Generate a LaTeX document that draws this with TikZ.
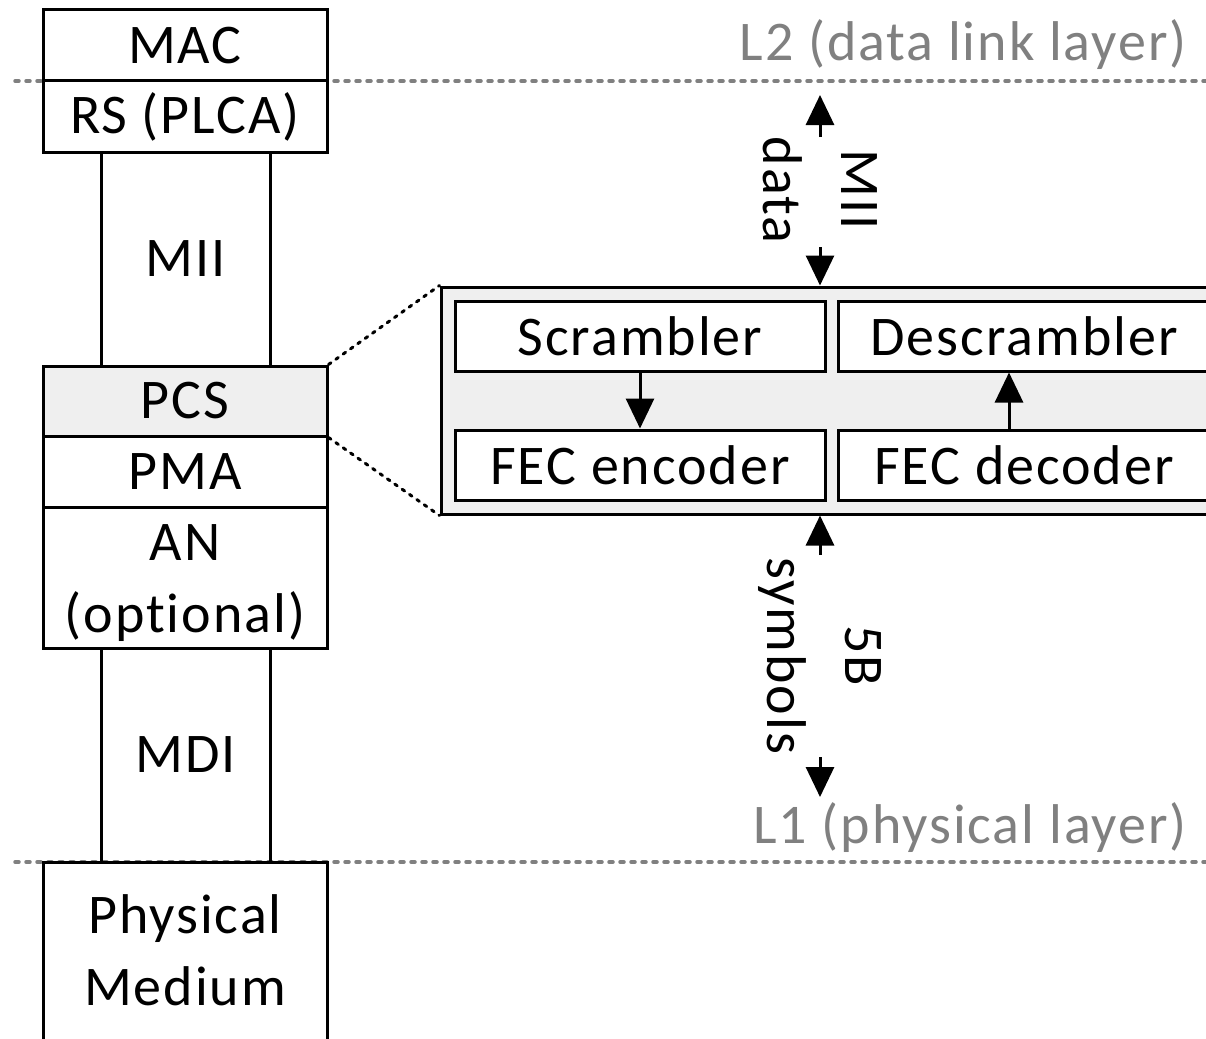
\documentclass[tikz,border=0pt]{standalone}
\usepackage{fontspec}
\setmainfont{Carlito}[Ligatures=CommonOff, LetterSpace=3.5]
\usetikzlibrary{arrows.meta}
\definecolor{layergray}{HTML}{808080}
\definecolor{pcsfill}{HTML}{EFEFEF}
\tikzset{
  blk/.style={draw=black, line width=3pt, minimum width=284pt, inner sep=0pt, align=center,
              font=\fontsize{56}{71}\selectfont},
  col/.style={draw=black, line width=3pt, minimum width=169pt, minimum height=214pt, inner sep=0pt,
              font=\fontsize{56}{71}\selectfont},
  sub/.style={draw=black, line width=3pt, fill=white, minimum height=70pt, inner sep=0pt,
              font=\fontsize{56}{71}\selectfont},
  txt/.style={inner sep=0pt, anchor=base, font=\fontsize{56}{71}\selectfont},
  layerline/.style={draw=layergray, line width=3.5pt, line cap=round, dash pattern=on 4pt off 7pt},
  layerlbl/.style={text=layergray, anchor=east, inner sep=0pt, font=\fontsize{56}{71}\selectfont},
  zoomline/.style={draw=black, line width=3pt, line cap=round, dash pattern=on 3pt off 6pt},
  arr/.style={draw=black, line width=3pt, -{Triangle[width=28pt,length=30pt]}},
  rotlbl/.style={rotate=-90, align=center, inner sep=0pt, font=\fontsize{56}{78}\selectfont}
}
\begin{document}
\begin{tikzpicture}[x=1pt,y=-1pt]
\useasboundingbox (0,0) rectangle (1206,1038);
\clip (0,0) rectangle (1206,1038);
% layer lines
\coordinate (l2a) at (15,81);
\coordinate (l2b) at (1210,81);
\coordinate (l1a) at (15,862);
\coordinate (l1b) at (1210,862);
\draw[layerline] (l2a) -- (l2b);
\draw[layerline] (l1a) -- (l1b);
\node[layerlbl] (l2lbl) at (1187,45) {L2 (data link layer)};
\node[layerlbl] (l1lbl) at (1187,828) {L1 (physical layer)};
% left stack
\node[col] (mii) at (185.5,259) {MII};
\node[col] (mdi) at (185.5,755) {MDI};
\node[blk, fill=white, minimum height=71pt] (mac) at (185,45.5) {MAC};
\node[blk, fill=white, minimum height=71pt] (rs) at (185,116.5) {RS (PLCA)};
\node[blk, fill=pcsfill, minimum height=70pt] (pcs) at (185,401) {PCS};
\node[blk, fill=white, minimum height=71pt] (pma) at (185,471.5) {PMA};
\node[blk, fill=white, minimum height=141pt] (an) at (185,577.5) {};
\node[txt] (antxt1) at (185,560) {AN};
\node[txt] (antxt2) at (185,632) {(optional)};
\node[blk, fill=white, minimum height=190pt] (phy) at (185,957) {};
\node[txt] (phytxt1) at (185,933) {Physical};
\node[txt] (phytxt2) at (185,1005) {Medium};
% expanded PCS
\node[draw=black, line width=3pt, fill=pcsfill, minimum width=779pt, minimum height=227pt, inner sep=0pt] (outer) at (830.5,400.5) {};
\node[sub, minimum width=370pt] (scr) at (640,336) {Scrambler};
\node[sub, minimum width=370pt] (fece) at (640,465) {FEC encoder};
\node[sub, minimum width=372pt] (descr) at (1024,336) {Descrambler};
\node[sub, minimum width=372pt] (fecd) at (1024,465) {FEC decoder};
\draw[zoomline] (pcs.north east) -- (outer.north west);
\draw[zoomline] (pcs.south east) -- (outer.south west);
\draw[arr] (scr.south) -- (fece.north);
\draw[arr] (fecd.north -| 1009,0) -- (descr.south -| 1009,0);
% MII data arrows
\coordinate (miiTop) at (820,95);
\coordinate (miiTopT) at (820,137);
\coordinate (miiBotT) at (820,247);
\draw[arr] (miiTopT) -- (miiTop);
\draw[arr] (miiBotT) -- (outer.north -| miiBotT);
\node[rotlbl] (miidata) at (820,190) {MII\\data};
% 5B symbols arrows
\coordinate (symTopT) at (820,555);
\coordinate (symBotT) at (820,757);
\coordinate (symBot) at (820,797);
\draw[arr] (symTopT) -- (outer.south -| symTopT);
\draw[arr] (symBotT) -- (symBot);
\node[rotlbl] (sym) at (820,656) {5B\\symbols};
\end{tikzpicture}
\end{document}
